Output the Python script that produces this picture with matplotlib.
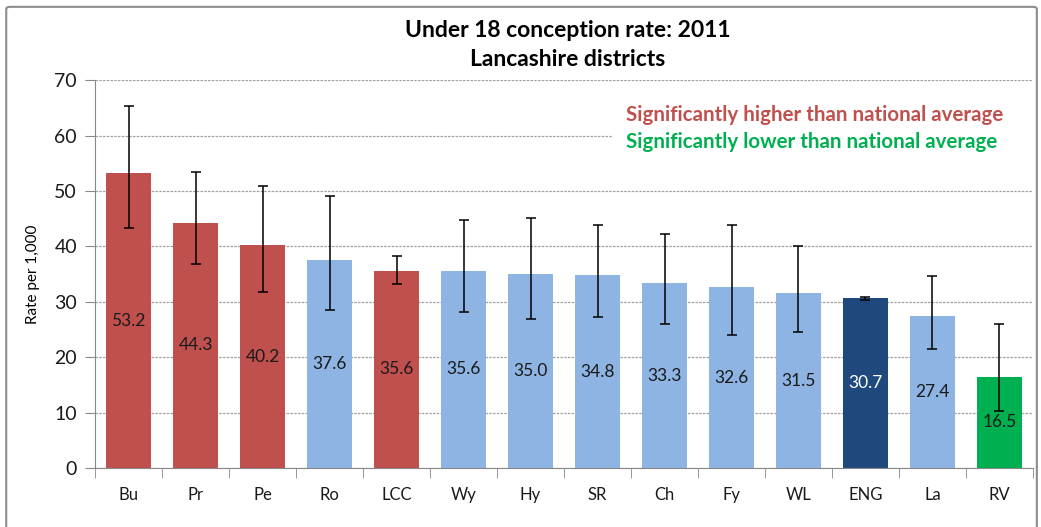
"""
Under 18 conception rate 2011, Lancashire districts.
Bar chart with confidence intervals, coloured by significance.
"""

import matplotlib
matplotlib.use("Agg")
import matplotlib.pyplot as plt
from matplotlib.patches import Rectangle, FancyBboxPatch

districts = ["Bu", "Pr", "Pe", "Ro", "LCC", "Wy", "Hy", "SR", "Ch", "Fy", "WL", "ENG", "La", "RV"]
rates = [53.2, 44.3, 40.2, 37.6, 35.6, 35.6, 35.0, 34.8, 33.3, 32.6, 31.5, 30.7, 27.4, 16.5]
ci_upper = [65.3, 53.5, 50.8, 49.1, 38.2, 44.7, 45.1, 43.9, 42.2, 43.9, 40.1, 30.9, 34.6, 25.9]
ci_lower = [43.3, 36.8, 31.8, 28.6, 33.2, 28.1, 26.9, 27.3, 26.0, 24.0, 24.6, 30.4, 21.5, 10.3]
# H = significantly higher, L = significantly lower, N = not significant, E = England
status = ["H", "H", "H", "N", "H", "N", "N", "N", "N", "N", "N", "E", "N", "L"]

colour_map = {"H": "#C0504D", "N": "#8EB4E3", "E": "#1F497D", "L": "#00B050"}

plt.rcParams["font.family"] = ["Lato", "DejaVu Sans"]

fig = plt.figure(figsize=(10.41, 5.27), dpi=100)
ax = fig.add_axes([0.0913, 0.112, 0.9010, 0.736])

# chart border
fig.patches.append(FancyBboxPatch((0.006, -0.05), 0.990, 1.037, boxstyle="round,pad=0,rounding_size=0.004",
                                  transform=fig.transFigure, fill=False, edgecolor="#8c8c8c", linewidth=1.5))

x = list(range(len(districts)))
colours = [colour_map[s] for s in status]
ax.bar(x, rates, width=0.67, color=colours, zorder=2)

err_low = [r - lo for r, lo in zip(rates, ci_lower)]
err_high = [hi - r for r, hi in zip(rates, ci_upper)]
ax.errorbar(x, rates, yerr=[err_low, err_high], fmt="none", ecolor="black",
            elinewidth=1.1, capsize=3.3, capthick=1.1, zorder=4)

for xi, r, s in zip(x, rates, status):
    ax.text(xi, r / 2, f"{r:.1f}", ha="center", va="center", fontsize=12.5,
            color="white" if s == "E" else "#1a1a1a", zorder=5)

ax.set_xlim(-0.5, len(districts) - 0.5)
ax.set_ylim(0, 70)
ax.set_yticks(range(0, 71, 10))
ax.set_xticks(x)
ax.set_xticklabels(districts, fontsize=12)
ax.set_xticks([i - 0.5 for i in range(len(districts) + 1)], minor=True)
ax.tick_params(axis="x", which="major", length=0, pad=14)
ax.tick_params(axis="x", which="minor", length=7, color="#888888")
ax.tick_params(axis="y", labelsize=14, length=7, color="#888888", pad=6)
for lbl in ax.get_yticklabels() + ax.get_xticklabels():
    lbl.set_color("#1a1a1a")

ax.grid(axis="y", linestyle=(0, (2, 1)), color="#a0a0a0", linewidth=0.9, zorder=0)
ax.set_axisbelow(True)
for side in ["top", "right"]:
    ax.spines[side].set_visible(False)
ax.spines["left"].set_color("#888888")
ax.spines["bottom"].set_color("#888888")

ax.set_ylabel("Rate per 1,000", fontsize=11, labelpad=10)

# legend box covering grid
ax.add_patch(Rectangle((0.551, 0.78), 0.46, 0.18, transform=ax.transAxes,
                       facecolor="white", edgecolor="none", zorder=1, clip_on=False))
ax.text(0.566, 0.894, "Significantly higher than national average", transform=ax.transAxes,
        fontsize=14.8, fontweight="bold", color="#C0504D", va="baseline", ha="left", zorder=3)
ax.text(0.566, 0.825, "Significantly lower than national average", transform=ax.transAxes,
        fontsize=14.8, fontweight="bold", color="#00B050", va="baseline", ha="left", zorder=3)

fig.text(0.545, 0.929, "Under 18 conception rate: 2011", ha="center", va="baseline",
         fontsize=16.5, fontweight="bold")
fig.text(0.545, 0.875, "Lancashire districts", ha="center", va="baseline",
         fontsize=16.5, fontweight="bold")

fig.savefig("out.png", dpi=100)
